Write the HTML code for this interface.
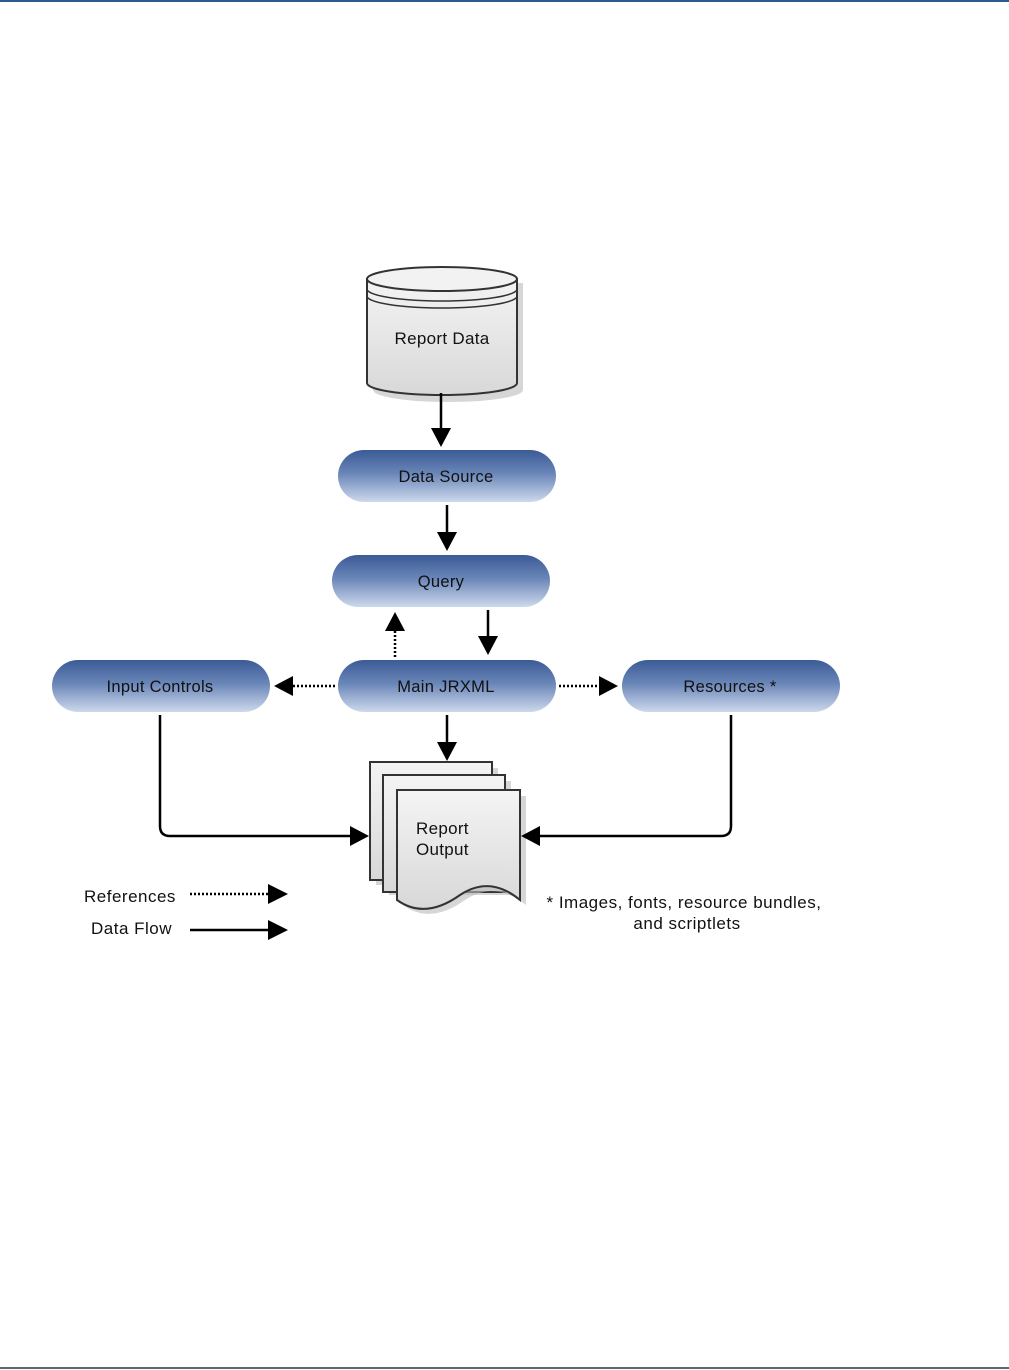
<!DOCTYPE html>
<html><head><meta charset="utf-8"><style>
html,body{margin:0;padding:0;background:#fff;}
svg{display:block;font-family:"Liberation Sans",Arial,sans-serif;}
</style></head><body>
<svg width="1009" height="1370" viewBox="0 0 1009 1370" xmlns="http://www.w3.org/2000/svg">
<defs>
<linearGradient id="pill" x1="0" y1="0" x2="0" y2="1">
<stop offset="0" stop-color="#3b5b96"/><stop offset="0.45" stop-color="#6a86b8"/><stop offset="1" stop-color="#cdd9ec"/>
</linearGradient>
<linearGradient id="gray" x1="0" y1="0" x2="0" y2="1">
<stop offset="0" stop-color="#f4f4f4"/><stop offset="1" stop-color="#d8d8d8"/>
</linearGradient>
</defs>
<line x1="0" y1="1" x2="1009" y2="1" stroke="#2c5a8c" stroke-width="2"/>
<line x1="0" y1="1368" x2="1009" y2="1368" stroke="#333" stroke-width="1.5"/>

<path d="M373 283 L373 390 A75 12 0 0 0 523 390 L523 283 Z" fill="#bbb" opacity="0.6"/>
<path d="M367 279 L367 383 A75 12 0 0 0 517 383 L517 279 Z" fill="url(#gray)" stroke="#333" stroke-width="2"/>
<ellipse cx="442" cy="279" rx="75" ry="12" fill="#f2f2f2" stroke="#333" stroke-width="2"/>
<path d="M367 289 A75 12 0 0 0 517 289 M367 296 A75 12 0 0 0 517 296" fill="none" stroke="#333" stroke-width="1.5"/>
<text x="442" y="344" font-size="17" text-anchor="middle" fill="#111" letter-spacing="0.3">Report Data</text>

<g font-size="16.5" text-anchor="middle" fill="#111" letter-spacing="0.3">
<rect x="338" y="450" width="218" height="52" rx="26" fill="url(#pill)"/>
<text x="446" y="482">Data Source</text>
<rect x="332" y="555" width="218" height="52" rx="26" fill="url(#pill)"/>
<text x="441" y="587">Query</text>
<rect x="52" y="660" width="218" height="52" rx="26" fill="url(#pill)"/>
<text x="160" y="692">Input Controls</text>
<rect x="338" y="660" width="218" height="52" rx="26" fill="url(#pill)"/>
<text x="446" y="692">Main JRXML</text>
<rect x="622" y="660" width="218" height="52" rx="26" fill="url(#pill)"/>
<text x="730" y="692">Resources *</text>
</g>

<g stroke="#333" stroke-width="2">
<path d="M376 768 L498 768 L498 885 L376 885 Z" fill="#bbb" stroke="none" opacity="0.6"/>
<path d="M370 762 L492 762 L492 880 L370 880 Z" fill="url(#gray)"/>
<path d="M389 781 L511 781 L511 895 L389 895 Z" fill="#bbb" stroke="none" opacity="0.6"/>
<path d="M383 775 L505 775 L505 892 L383 892 Z" fill="url(#gray)"/>
<path d="M403 796 L526 796 L526 905 Q495 880 465 900 Q430 925 403 905 Z" fill="#bbb" stroke="none" opacity="0.6"/>
<path d="M397 790 L520 790 L520 900 Q490 875 460 895 Q425 920 397 900 Z" fill="url(#gray)"/>
</g>
<text x="416" y="834" font-size="17" fill="#111" letter-spacing="0.3">Report</text>
<text x="416" y="855" font-size="17" fill="#111" letter-spacing="0.3">Output</text>

<g stroke="#000" stroke-width="2.5" fill="none">
<line x1="441" y1="393" x2="441" y2="430"/>
<line x1="447" y1="505" x2="447" y2="533"/>
<line x1="488" y1="610" x2="488" y2="638"/>
<line x1="447" y1="715" x2="447" y2="743"/>
<path d="M160 715 L160 826 Q160 836 170 836 L352 836"/>
<path d="M731 715 L731 826 Q731 836 721 836 L538 836"/>
<line x1="190" y1="930" x2="270" y2="930"/>
</g>
<g stroke="#000" stroke-width="2.5" stroke-dasharray="2,2" fill="none">
<line x1="395" y1="657" x2="395" y2="630"/>
<line x1="335" y1="686" x2="292" y2="686"/>
<line x1="559" y1="686" x2="600" y2="686"/>
<line x1="190" y1="894" x2="270" y2="894"/>
</g>
<g fill="#000">
<polygon points="431,428 451,428 441,447"/>
<polygon points="437,532 457,532 447,551"/>
<polygon points="478,636 498,636 488,655"/>
<polygon points="437,742 457,742 447,761"/>
<polygon points="385,631 405,631 395,612"/>
<polygon points="293,676 293,696 274,686"/>
<polygon points="599,676 599,696 618,686"/>
<polygon points="350,826 350,846 369,836"/>
<polygon points="540,826 540,846 521,836"/>
<polygon points="268,884 268,904 288,894"/>
<polygon points="268,920 268,940 288,930"/>
</g>

<g font-size="17" fill="#111" letter-spacing="0.5">
<text x="84" y="902">References</text>
<text x="91" y="934">Data Flow</text>
<text x="684" y="908" text-anchor="middle">* Images, fonts, resource bundles,</text>
<text x="687" y="929" text-anchor="middle">and scriptlets</text>
</g>
</svg>
</body></html>
